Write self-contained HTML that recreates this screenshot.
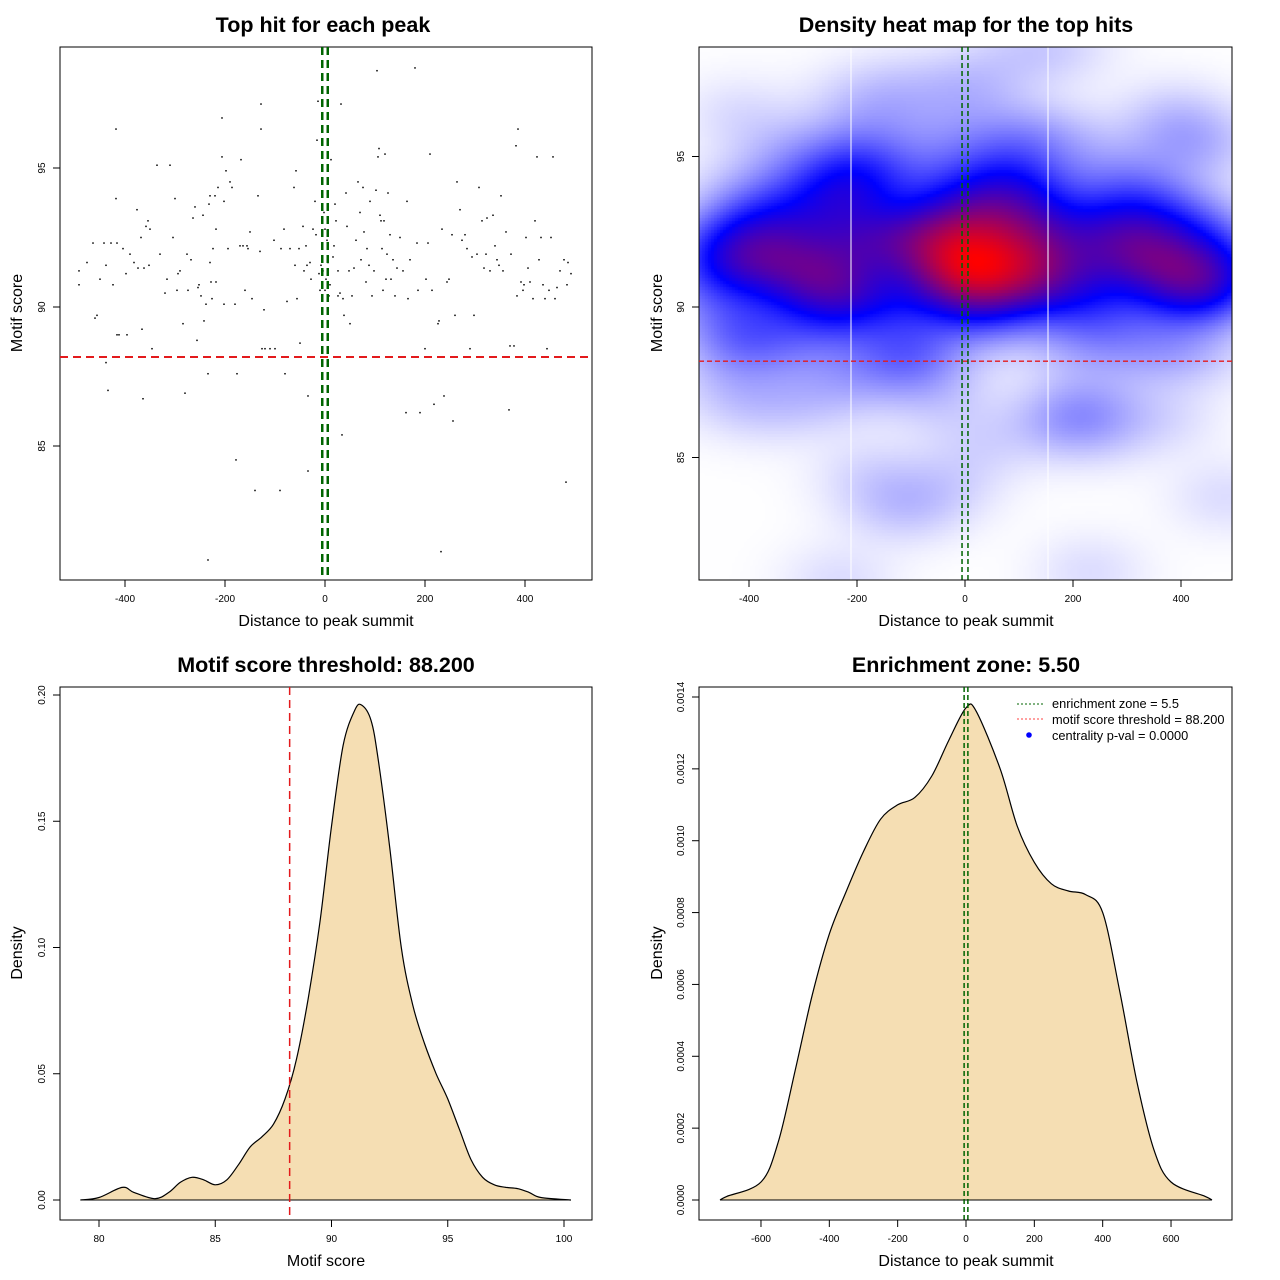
<!DOCTYPE html>
<html><head><meta charset="utf-8">
<style>
html,body{margin:0;padding:0;background:#fff;}
#wrap{position:relative;width:1280px;height:1280px;font-family:"Liberation Sans",sans-serif;}
#heat{position:absolute;left:699px;top:47px;}
#svg{position:absolute;left:0;top:0;}
</style></head>
<body>
<div id="wrap">
<canvas id="heat" width="533" height="533"></canvas>
<svg id="svg" width="1280" height="1280" xmlns="http://www.w3.org/2000/svg"></svg>
</div>
<script>
const scatterX=[-492,-492,-476,-464,-460,-456,-450,-442,-438,-438,-434,-428,-424,-418,-418,-416,-416,-412,-404,-398,-396,-390,-382,-376,-374,-368,-366,-364,-362,-358,-354,-352,-350,-346,-336,-330,-320,-316,-310,-304,-300,-296,-294,-290,-284,-280,-276,-274,-268,-264,-260,-256,-254,-252,-248,-244,-242,-238,-234,-234,-232,-230,-230,-228,-226,-224,-220,-218,-218,-214,-206,-206,-202,-202,-198,-194,-190,-186,-180,-178,-176,-170,-168,-164,-160,-156,-154,-150,-146,-140,-134,-130,-128,-128,-126,-122,-120,-110,-102,-100,-90,-88,-82,-80,-76,-70,-62,-60,-58,-56,-52,-50,-44,-42,-38,-36,-34,-34,-30,-28,-24,-20,-18,-16,-14,-12,-10,-8,-6,-4,-2,0,0,2,4,6,8,10,12,16,18,20,22,26,26,30,32,34,36,38,42,44,48,50,54,58,62,66,70,72,76,78,82,84,88,90,94,98,102,104,106,108,110,112,114,116,118,120,122,124,126,130,132,136,140,144,150,156,162,164,166,170,180,184,186,190,200,202,206,210,214,218,226,228,232,234,238,244,248,254,256,260,264,270,274,280,284,290,294,298,304,308,314,318,322,324,330,336,340,344,348,352,356,362,368,370,372,378,382,384,386,392,396,398,402,406,410,416,420,424,428,432,436,440,444,448,452,456,460,464,470,478,482,484,486,492];
const scatterY=[91.3,90.8,91.6,92.3,89.6,89.7,91.0,92.3,91.5,88.0,87.0,92.3,90.8,96.4,93.9,92.3,89.0,89.0,92.1,91.2,89.0,91.9,91.6,93.5,91.4,92.5,89.2,86.7,91.4,92.9,93.1,91.5,92.8,88.5,95.1,91.9,90.5,91.0,95.1,92.5,93.9,90.6,91.2,91.3,89.4,86.9,91.9,90.6,91.7,93.2,93.6,88.8,90.7,90.8,90.4,93.3,89.5,90.1,80.9,87.6,93.7,94.0,91.6,90.9,90.3,92.1,94.0,92.8,90.9,94.3,96.8,95.4,93.8,90.1,94.9,92.1,94.5,94.3,90.1,84.5,87.6,92.2,95.3,92.2,90.6,92.2,92.1,92.7,90.3,83.4,94.0,92.0,97.3,96.4,88.5,89.9,88.5,88.5,92.4,88.5,83.4,92.1,92.8,87.6,90.2,92.1,94.3,91.5,94.9,90.3,92.1,88.7,92.9,91.3,92.2,91.5,86.8,84.1,91.6,91.0,92.8,93.8,92.6,96.0,97.4,91.2,90.6,91.5,92.2,91.3,93.4,92.8,90.6,91.0,92.4,91.6,90.4,90.8,95.3,91.8,92.2,93.7,93.1,91.3,90.4,90.5,97.3,85.4,90.3,89.7,94.1,92.9,91.3,89.4,90.4,91.4,92.4,94.5,93.4,91.7,94.3,92.7,90.9,92.1,91.5,93.8,90.4,91.3,94.2,98.5,95.4,95.7,93.3,93.1,92.1,90.6,93.1,95.5,91.0,91.9,94.1,92.6,91.0,91.7,90.4,91.4,92.5,91.3,86.2,93.8,90.3,91.7,98.6,92.3,90.6,86.2,88.5,91.0,92.3,95.5,90.6,86.5,89.4,89.5,81.2,92.8,86.8,90.9,91.0,92.6,85.9,89.7,94.5,93.5,92.4,92.6,92.1,88.5,91.8,89.7,91.9,94.3,93.1,91.4,91.9,93.2,91.3,93.3,92.2,91.7,91.5,94.0,91.3,92.7,86.3,88.6,91.9,88.6,95.8,90.4,96.4,90.9,90.6,90.8,92.5,91.4,90.9,90.3,93.1,95.4,91.7,92.5,90.8,90.3,88.5,90.6,92.5,95.4,90.3,90.7,91.3,91.7,83.7,90.8,91.6,91.2];
const scoreGrid=[79.2,80,81,81.5,82.4,83,83.5,84,84.5,85,85.5,86,86.5,87,87.5,88,88.5,89,89.5,90,90.5,91,91.3,91.7,92,92.5,93,93.5,94,94.5,95,95.5,96,96.5,97,97.5,98,98.5,99,100.3];
const scoreDens=[0,0.001,0.005,0.003,0.0005,0.003,0.007,0.009,0.008,0.006,0.008,0.014,0.021,0.025,0.030,0.040,0.056,0.080,0.110,0.148,0.180,0.194,0.196,0.190,0.175,0.140,0.100,0.077,0.062,0.050,0.040,0.028,0.016,0.009,0.006,0.005,0.0045,0.003,0.001,0];
const distGrid=[-720,-700,-600,-550,-500,-450,-400,-350,-300,-250,-200,-150,-100,-50,0,30,100,150,200,250,300,350,400,450,500,550,600,700,720];
const distDens=[0,0.00001,0.00005,0.00016,0.00036,0.00057,0.00074,0.00086,0.00097,0.00106,0.00110,0.00112,0.00118,0.00128,0.00137,0.00136,0.00120,0.00104,0.00094,0.00088,0.00086,0.00085,0.00080,0.00058,0.00033,0.00014,0.00005,0.00001,0];
const threshold=88.2, zone=5.5;

const NS="http://www.w3.org/2000/svg";
const svg=document.getElementById('svg');
function mk(tag,attrs,parent,name,inter){const e=document.createElementNS(NS,tag);for(const k in attrs)e.setAttribute(k,attrs[k]);


(parent||svg).appendChild(e);return e;}
function txt(x,y,s,size,name,opt){opt=opt||{};const a={x:x,y:y,'font-size':size,'text-anchor':opt.anchor||'middle','font-family':'Liberation Sans, sans-serif',fill:'#000'};if(opt.bold)a['font-weight']='bold';if(opt.rot)a.transform='rotate(-90 '+x+' '+y+')';const t=mk('text',a,svg,name,false);t.textContent=s;return t;}
function smooth(pts){let d='M'+pts[0][0].toFixed(1)+','+pts[0][1].toFixed(1);
for(let i=0;i<pts.length-1;i++){const p0=pts[Math.max(0,i-1)],p1=pts[i],p2=pts[i+1],p3=pts[Math.min(pts.length-1,i+2)];
const c1x=p1[0]+(p2[0]-p0[0])/6,c1y=p1[1]+(p2[1]-p0[1])/6,c2x=p2[0]-(p3[0]-p1[0])/6,c2y=p2[1]-(p3[1]-p1[1])/6;
d+=' C'+c1x.toFixed(1)+','+c1y.toFixed(1)+' '+c2x.toFixed(1)+','+c2y.toFixed(1)+' '+p2[0].toFixed(1)+','+p2[1].toFixed(1);}return d;}

const sx1=v=>325+v*0.5, sy1=v=>307-(v-90)*27.8;
const sx2=v=>965+v*0.54, sy2=v=>307-(v-90)*30.1;
const sx3=v=>99+(v-80)*23.25, sy3=v=>1200-v*2525;
const sx4=v=>966+v*0.3417, sy4=v=>1200-v*359286;

function frame(x0,y0,x1,y1,name){mk('rect',{x:x0,y:y0,width:x1-x0,height:y1-y0,fill:'none',stroke:'#000','stroke-width':1},svg,name,false);}
function xticks(vals,sx,yb,x0,x1,fmt,name){mk('line',{x1:sx(vals[0]),x2:sx(vals[vals.length-1]),y1:yb,y2:yb,stroke:'#000'},svg,name+'-axis-line',false);
vals.forEach(v=>{mk('line',{x1:sx(v),x2:sx(v),y1:yb,y2:yb+7,stroke:'#000'},svg,name+'-tick',false);txt(sx(v),yb+22,fmt(v),10,name+'-tick-label');});}
function yticks(vals,sy,xl,fmt,name){vals.forEach(v=>{mk('line',{x1:xl,x2:xl-7,y1:sy(v),y2:sy(v),stroke:'#000'},svg,name+'-tick',false);txt(xl-15,sy(v),fmt(v),10,name+'-tick-label',{rot:true});});}

// ===== Panel 1 =====
txt(323,32,'Top hit for each peak',21.5,'panel1-title',{bold:true});
frame(60,47,592,580,'panel1-plot-area');
scatterX.forEach((x,i)=>{mk('rect',{x:sx1(x)-0.75,y:sy1(scatterY[i])-0.75,width:1.5,height:1.5,fill:'#000'},svg,'scatter-point',false);});
mk('line',{x1:60,x2:592,y1:sy1(threshold),y2:sy1(threshold),stroke:'#e31a1c','stroke-width':2,'stroke-dasharray':'8,5'},svg,'threshold-line',false);
[-zone,zone].forEach(z=>mk('line',{x1:sx1(z),x2:sx1(z),y1:47,y2:580,stroke:'#006400','stroke-width':2.5,'stroke-dasharray':'8,5'},svg,'enrichment-zone-line',false));
xticks([-400,-200,0,200,400],sx1,580,60,592,v=>String(v),'panel1-x');
yticks([85,90,95],sy1,60,v=>String(v),'panel1-y');
txt(326,626,'Distance to peak summit',16,'panel1-x-axis-title');
txt(22,313,'Motif score',16,'panel1-y-axis-title',{rot:true});

// ===== Panel 2 heatmap =====
(function(){const c=document.getElementById('heat');const ctx=c.getContext('2d');const W=533,H=533,st=3;
const hx=70,hy=0.85;let grid=[],mx=0;
for(let j=0;j<H;j+=st){for(let i=0;i<W;i+=st){const X=(699+i+st/2-965)/0.54,Y=90-(47+j+st/2-307)/30.1;let d=0;
for(let k=0;k<scatterX.length;k++){const a=(X-scatterX[k])/hx,b=(Y-scatterY[k])/hy;d+=Math.exp(-0.5*(a*a+b*b));}
grid.push(d);if(d>mx)mx=d;}}
let n=0;for(let j=0;j<H;j+=st){for(let i=0;i<W;i+=st){let t=grid[n++]/mx;t=Math.pow(t,0.85);let r,g,b;
if(t<0.45){const u=t/0.45;r=255*(1-u);g=255*(1-u);b=255;}else{const u=(t-0.45)/0.55;r=255*u;g=0;b=255*(1-u);}
ctx.fillStyle='rgb('+(r|0)+','+(g|0)+','+(b|0)+')';ctx.fillRect(i,j,st,st);}}
})();
txt(966,32,'Density heat map for the top hits',21.5,'panel2-title',{bold:true});
[851,1048].forEach(x=>mk('line',{x1:x,x2:x,y1:47,y2:580,stroke:'#fff','stroke-width':1},svg,'heatmap-cell-seam',false));
frame(699,47,1232,580,'panel2-plot-area');
mk('line',{x1:699,x2:1232,y1:sy2(threshold),y2:sy2(threshold),stroke:'#e31a1c','stroke-width':1.3,'stroke-dasharray':'5,3'},svg,'threshold-line',false);
[-zone,zone].forEach(z=>mk('line',{x1:sx2(z),x2:sx2(z),y1:47,y2:580,stroke:'#006400','stroke-width':1.5,'stroke-dasharray':'5,3'},svg,'enrichment-zone-line',false));
xticks([-400,-200,0,200,400],sx2,580,699,1232,v=>String(v),'panel2-x');
yticks([85,90,95],sy2,699,v=>String(v),'panel2-y');
txt(966,626,'Distance to peak summit',16,'panel2-x-axis-title');
txt(662,313,'Motif score',16,'panel2-y-axis-title',{rot:true});

// ===== Panel 3 =====
txt(326,672,'Motif score threshold: 88.200',21.5,'panel3-title',{bold:true});
frame(60,687,592,1220,'panel3-plot-area');
{const pts=scoreGrid.map((g,i)=>[sx3(g),sy3(scoreDens[i])]);const l=smooth(pts);
mk('path',{d:l+' Z',fill:'#f5deb3',stroke:'none'},svg,'score-density-area',false);
mk('line',{x1:pts[0][0],x2:pts[pts.length-1][0],y1:sy3(0),y2:sy3(0),stroke:'#000'},svg,'density-baseline',false);
mk('path',{d:l,fill:'none',stroke:'#000','stroke-width':1.2},svg,'score-density-curve',false);}
mk('line',{x1:sx3(threshold),x2:sx3(threshold),y1:687,y2:1220,stroke:'#e31a1c','stroke-width':1.5,'stroke-dasharray':'8,5'},svg,'threshold-line',false);
xticks([80,85,90,95,100],sx3,1220,60,592,v=>String(v),'panel3-x');
yticks([0,0.05,0.1,0.15,0.2],sy3,60,v=>v.toFixed(2),'panel3-y');
txt(326,1266,'Motif score',16,'panel3-x-axis-title');
txt(22,953,'Density',16,'panel3-y-axis-title',{rot:true});

// ===== Panel 4 =====
txt(966,672,'Enrichment zone: 5.50',21.5,'panel4-title',{bold:true});
frame(699,687,1232,1220,'panel4-plot-area');
{const pts=distGrid.map((g,i)=>[sx4(g),sy4(distDens[i])]);const l=smooth(pts);
mk('path',{d:l+' Z',fill:'#f5deb3',stroke:'none'},svg,'distance-density-area',false);
mk('line',{x1:pts[0][0],x2:pts[pts.length-1][0],y1:sy4(0),y2:sy4(0),stroke:'#000'},svg,'density-baseline',false);
mk('path',{d:l,fill:'none',stroke:'#000','stroke-width':1.2},svg,'distance-density-curve',false);}
[-zone,zone].forEach(z=>mk('line',{x1:sx4(z),x2:sx4(z),y1:687,y2:1220,stroke:'#006400','stroke-width':1.5,'stroke-dasharray':'5,3'},svg,'enrichment-zone-line',false));
xticks([-600,-400,-200,0,200,400,600],sx4,1220,699,1232,v=>String(v),'panel4-x');
yticks([0,0.0002,0.0004,0.0006,0.0008,0.001,0.0012,0.0014],sy4,699,v=>v.toFixed(4),'panel4-y');
txt(966,1266,'Distance to peak summit',16,'panel4-x-axis-title');
txt(662,953,'Density',16,'panel4-y-axis-title',{rot:true});
mk('line',{x1:1017,x2:1045,y1:704,y2:704,stroke:'#006400','stroke-dasharray':'2,2'},svg,'legend-zone-swatch',false);
txt(1052,708,'enrichment zone = 5.5',12.8,'legend-zone-label',{anchor:'start'});
mk('line',{x1:1017,x2:1045,y1:719,y2:719,stroke:'#ff4040','stroke-dasharray':'2,2'},svg,'legend-threshold-swatch',false);
txt(1052,724,'motif score threshold = 88.200',12.8,'legend-threshold-label',{anchor:'start'});
mk('circle',{cx:1029,cy:735,r:2.8,fill:'#0000ff'},svg,'legend-pval-marker',false);
txt(1052,740,'centrality p-val = 0.0000',12.8,'legend-pval-label',{anchor:'start'});
</script>
</body></html>
